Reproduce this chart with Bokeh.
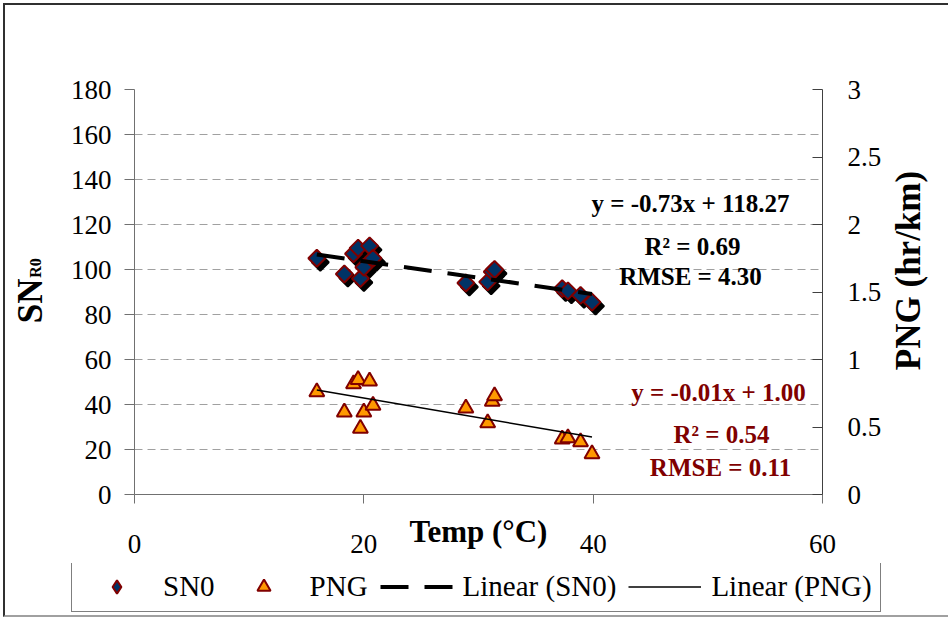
from math import pi

from bokeh.embed import file_html
from bokeh.layouts import column, row
from bokeh.models import (CustomJSTickFormatter, FixedTicker, Label, Legend,
                          LegendItem, LinearAxis, Range1d)
from bokeh.plotting import figure
from bokeh.resources import INLINE

# ---- data -------------------------------------------------------------
temp_c = [15.9, 18.3, 19.1, 19.5, 19.7, 20.0, 20.5, 20.8,
          28.9, 30.8, 31.2, 31.4, 37.3, 37.8, 38.9, 39.9]
sn0 = [105.0, 98.0, 107.0, 109.5, 96.0, 101.0, 110.5, 105.0,
       94.0, 94.5, 99.0, 100.0, 91.5, 90.5, 88.5, 85.5]
png = [0.76, 0.61, 0.82, 0.85, 0.49, 0.61, 0.84, 0.66,
       0.64, 0.53, 0.69, 0.73, 0.41, 0.42, 0.39, 0.30]

# linear trend lines (slope, intercept) and fit statistics
sn0_slope, sn0_intercept, sn0_r2, sn0_rmse = -0.73, 118.27, 0.69, 4.30
png_slope, png_intercept, png_r2, png_rmse = -0.0145, 1.004, 0.54, 0.11

x_ticks = [0, 20, 40, 60]
sn_ticks = [0, 20, 40, 60, 80, 100, 120, 140, 160, 180]
png_ticks = [0, 0.5, 1, 1.5, 2, 2.5, 3]

legend_labels = ["SN0", "PNG", "Linear (SN0)", "Linear (PNG)"]

# ---- layout -----------------------------------------------------------
FONT = "Liberation Serif"
OFF = 5                                  # page offset of the canvases (margin + border)
W_ALL = 943                              # total canvas width
W, H = 885, 558                          # chart canvas
W_TITLE = W_ALL - W                      # strip for the right-hand title
LEG_H = 52                               # legend strip canvas
FL, FR, FT, FB = 129, 817, 84, 489       # plot frame edges on the chart canvas
DARK_RED = "#800000"
SN_FILL, PNG_FILL = "#003366", "#FF9900"
NB = "\u00a0"


def no_frame_align(fig):
    try:
        fig.frame_align = False
    except AttributeError:
        pass


p = figure(width=W, height=H, x_range=Range1d(0, 60), y_range=Range1d(0, 180),
           output_backend="svg", toolbar_location=None,
           min_border_left=FL, min_border_right=W - FR,
           min_border_top=FT, min_border_bottom=H - FB)
no_frame_align(p)
p.outline_line_color = None
p.background_fill_color = "white"
p.border_fill_color = "white"
p.extra_y_ranges = {"png": Range1d(0, 3)}

tick_font_size = "27px"


def style_ticks(axis, color):
    axis.minor_tick_line_color = None
    axis.axis_line_color = color
    axis.major_tick_line_color = color
    axis.major_label_text_font = FONT
    axis.major_label_text_font_size = tick_font_size
    axis.major_label_text_color = "black"
    axis.axis_label_text_font = FONT
    axis.axis_label_text_font_style = "bold"
    axis.axis_label_text_color = "black"


# bottom axis; the title sits level with the tick numbers
xa = p.xaxis[0]
style_ticks(xa, "#707070")
xa.ticker = FixedTicker(ticks=x_ticks)
xa.major_tick_out = 9
xa.major_tick_in = 0
xa.major_label_standoff = 31
xa.axis_label = "Temp (\u00b0C)"
xa.axis_label_text_font_size = "31px"
xa.axis_label_standoff = -42

# left axis; its title carries the "R0" subscript part of the SN label
ya = p.yaxis[0]
style_ticks(ya, "#707070")
ya.ticker = FixedTicker(ticks=sn_ticks)
ya.major_tick_out = 10
ya.major_tick_in = 0
ya.major_label_standoff = 13
ya.axis_label = NB * 12 + "R0"
ya.axis_label_text_font_size = "16px"
ya.axis_label_standoff = 24

# outer bare axis holding the main "SN" part of the left title
sn_title = LinearAxis(ticker=FixedTicker(ticks=[]), axis_line_color=None,
                      major_tick_out=0, major_tick_in=0, minor_tick_out=0,
                      minor_tick_in=0, major_label_standoff=0)
sn_title.axis_label = "SN" + NB * 2
sn_title.axis_label_text_font = FONT
sn_title.axis_label_text_font_style = "bold"
sn_title.axis_label_text_font_size = "35px"
sn_title.axis_label_text_color = "black"
sn_title.axis_label_standoff = -26
p.add_layout(sn_title, "left")

# right axis
ra = LinearAxis(y_range_name="png", ticker=FixedTicker(ticks=png_ticks),
                formatter=CustomJSTickFormatter(code="return tick.toString()"))
style_ticks(ra, "#404040")
ra.major_tick_out = 0
ra.major_tick_in = 10
ra.major_label_standoff = 25
p.add_layout(ra, "right")

p.xgrid.visible = False
p.ygrid.ticker = FixedTicker(ticks=sn_ticks)
p.ygrid.grid_line_color = "#a0a0a0"
p.ygrid.grid_line_dash = "8 5"
p.ygrid.grid_line_width = 1

# ---- marks ------------------------------------------------------------
# drop shadow behind the SN0 diamonds, a few pixels down and right
px_x = (FR - FL) / 60.0
px_y = (FB - FT) / 180.0
shadow_x = [t + 3.5 / px_x for t in temp_c]
shadow_y = [v - 4.0 / px_y for v in sn0]
p.scatter(shadow_x, shadow_y, marker="square", angle=pi / 4, size=12,
          fill_color="black", line_color="black", line_width=2)

p.scatter(temp_c, sn0, marker="square", angle=pi / 4, size=12,
          fill_color=SN_FILL, line_color=DARK_RED, line_width=2)
p.scatter(temp_c, png, y_range_name="png", marker="triangle", size=15,
          fill_color=PNG_FILL, line_color=DARK_RED, line_width=2)

x_fit = [min(temp_c), max(temp_c)]
sn_fit_y = [sn0_slope * x + sn0_intercept for x in x_fit]
png_fit_y = [png_slope * x + png_intercept for x in x_fit]
p.line(x_fit, sn_fit_y, line_color="black", line_width=4, line_dash="28 16")
p.line(x_fit, png_fit_y, y_range_name="png", line_color="black", line_width=1.5)


# ---- fit equations (inside the frame) ---------------------------------
def label(text, px, py, size, color="black"):
    """Bold text anchored at page pixel (px, py), baseline alphabetic."""
    p.add_layout(Label(x=px - OFF - FL, y=FB - (py - OFF), x_units="screen",
                       y_units="screen", text=text, text_font=FONT,
                       text_font_size=f"{size}px", text_font_style="bold",
                       text_color=color, text_align="center",
                       text_baseline="alphabetic"))


label(f"y = {sn0_slope:.2f}x + {sn0_intercept:.2f}", 690, 203, 25)
label(f"R\u00b2 = {sn0_r2:.2f}", 692, 246, 25)
label(f"RMSE = {sn0_rmse:.2f}", 690, 276, 25)

label(f"y = {png_slope:.2f}x + {png_intercept:.2f}", 718, 392, 25, DARK_RED)
label(f"R\u00b2 = {png_r2:.2f}", 721, 434, 25, DARK_RED)
label(f"RMSE = {png_rmse:.2f}", 720, 467, 25, DARK_RED)


def strip(width, height):
    """A bare canvas whose whole area is the drawing frame."""
    s = figure(width=width, height=height, x_range=Range1d(0, 1), y_range=Range1d(0, 1),
               output_backend="svg", toolbar_location=None,
               x_axis_location=None, y_axis_location=None, min_border=0)
    no_frame_align(s)
    s.outline_line_color = None
    s.grid.visible = False
    s.background_fill_color = "white"
    s.border_fill_color = "white"
    return s


# ---- right-hand title strip ---------------------------------------------
rt = strip(W_TITLE, H)
rt.add_layout(Label(x=908 - OFF - W, y=270 - OFF, x_units="canvas", y_units="canvas",
                    text="PNG (hr/km)", text_font=FONT, text_font_size="35px",
                    text_font_style="bold", text_color="black", text_align="center",
                    text_baseline="alphabetic", angle=pi / 2))

# ---- legend strip under the chart -------------------------------------
# the series are drawn again here only to supply legend keys; the strip's
# y range lies below all values, so nothing but the legend is visible
lg = strip(W_ALL, LEG_H)
lg.x_range = Range1d(0, 60)
lg.y_range = Range1d(-2, -1)

k_sn = lg.scatter(temp_c, sn0, marker="diamond", size=12,
                  fill_color=SN_FILL, line_color=DARK_RED, line_width=2)
k_png = lg.scatter(temp_c, png, marker="triangle", size=15,
                   fill_color=PNG_FILL, line_color=DARK_RED, line_width=2)
k_sn_fit = lg.line(x_fit, sn_fit_y, line_color="black", line_width=4, line_dash="28 16")
k_png_fit = lg.line(x_fit, png_fit_y, line_color="black", line_width=1.5)

legend = Legend(
    items=[LegendItem(label=legend_labels[0], renderers=[k_sn]),
           LegendItem(label=legend_labels[1], renderers=[k_png]),
           LegendItem(label=legend_labels[2], renderers=[k_sn_fit]),
           LegendItem(label=legend_labels[3], renderers=[k_png_fit])],
    orientation="horizontal", location=(71 - OFF, 3), margin=0,
    glyph_width=73, glyph_height=33, label_height=33, label_standoff=10,
    spacing=12, padding=8,
    label_text_font=FONT, label_text_font_size="29px", label_text_color="black",
    border_line_color="black", border_line_width=1,
    background_fill_color="white", background_fill_alpha=1.0)
lg.add_layout(legend)

# chart border: dark left/top edges, light bottom edge
page = column(row(p, rt, spacing=0), lg, spacing=0,
              styles={"margin-left": "3px", "margin-top": "3px",
                      "border-left": "2px solid #303030",
                      "border-top": "2px solid #303030",
                      "border-bottom": "2px solid #a0a0a0"})

open("out.html", "w").write(file_html(page, INLINE))
